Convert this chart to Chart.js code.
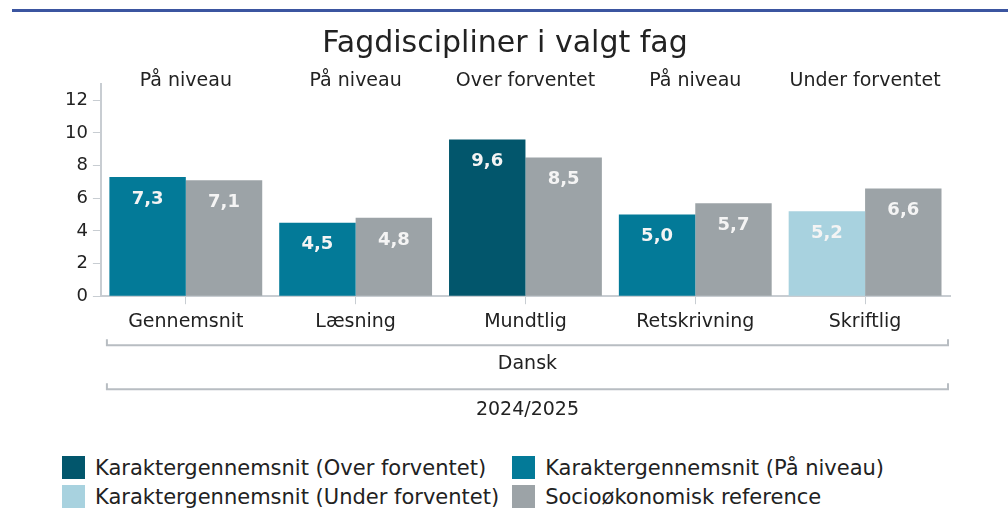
<!DOCTYPE html>
<html>
<head>
<meta charset="utf-8">
<script src="https://cdn.jsdelivr.net/npm/chart.js@4/dist/chart.umd.min.js"></script>
<style>
  html, body { margin: 0; padding: 0; background: #fff; width: 1008px; height: 513px; overflow: hidden; font-family: 'DejaVu Sans', sans-serif; }
  #topline { position: absolute; left: 12px; top: 9px; width: 996px; height: 3px; background: #3b55a0; }
  #wrap { position: absolute; left: 0; top: 0; width: 1008px; height: 440px; }
  #legend { position: absolute; left: 62px; top: 456px; display: grid; grid-template-columns: auto auto; column-gap: 13px; row-gap: 6px; font-size: 21px; color: #222; }
  .item { display: flex; align-items: center; height: 23px; white-space: nowrap; }
  .sw { width: 23px; height: 23px; margin-right: 10px; flex: none; }
</style>
</head>
<body>
<div id="topline"></div>
<div id="wrap"><canvas id="c" width="1008" height="440"></canvas></div>
<div id="legend"></div>
<script>
// ---- data ----
const categories = ['Gennemsnit', 'Læsning', 'Mundtlig', 'Retskrivning', 'Skriftlig'];
const statusLabels = ['På niveau', 'På niveau', 'Over forventet', 'På niveau', 'Under forventet'];
const gradeValues = [7.3, 4.5, 9.6, 5.0, 5.2];
const referenceValues = [7.1, 4.8, 8.5, 5.7, 6.6];
const subjectLabel = 'Dansk';
const yearLabel = '2024/2025';
const yTicks = [0, 2, 4, 6, 8, 10, 12];
const legendLabels = ['Karaktergennemsnit (Over forventet)', 'Karaktergennemsnit (På niveau)', 'Karaktergennemsnit (Under forventet)', 'Socioøkonomisk reference'];
const titleText = 'Fagdiscipliner i valgt fag';

// ---- styles ----
const FONT = "'DejaVu Sans', sans-serif";
const statusColors = { 'Over forventet': '#02566c', 'På niveau': '#037a98', 'Under forventet': '#a8d2df' };
const refColor = '#9ca3a7';
const legendColors = [statusColors['Over forventet'], statusColors['På niveau'], statusColors['Under forventet'], refColor];
const axisColor = '#c8cdd2';
const textColor = '#222';

// legend
const lg = document.getElementById('legend');
legendLabels.forEach((t, i) => {
  const d = document.createElement('div'); d.className = 'item';
  const s = document.createElement('span'); s.className = 'sw'; s.style.background = legendColors[i];
  const tx = document.createElement('span'); tx.textContent = t;
  d.appendChild(s); d.appendChild(tx); lg.appendChild(d);
});

const fmt = v => v.toFixed(1).replace('.', ',');

const extras = {
  id: 'extras',
  afterDatasetsDraw(chart) {
    const ctx = chart.ctx;
    ctx.save();
    ctx.font = 'bold 18px ' + FONT;
    ctx.fillStyle = '#f4f4f4';
    ctx.textAlign = 'center';
    ctx.textBaseline = 'middle';
    chart.data.datasets.forEach((ds, di) => {
      chart.getDatasetMeta(di).data.forEach((el, i) => {
        ctx.fillText(fmt(ds.data[i]), el.x, el.y + 22);
      });
    });
    ctx.restore();
  },
  afterDraw(chart) {
    const ctx = chart.ctx, ca = chart.chartArea, xs = chart.scales.x;
    ctx.save();
    ctx.fillStyle = textColor;
    ctx.textAlign = 'center';
    ctx.textBaseline = 'middle';
    ctx.font = '19px ' + FONT;
    statusLabels.forEach((s, i) => ctx.fillText(s, xs.getPixelForValue(i), ca.top - 3));
    const l = ca.left + 6, r = ca.right - 2, cx = (l + r) / 2;
    ctx.strokeStyle = '#b8bdc2';
    ctx.lineWidth = 2;
    [[ca.bottom + 49, subjectLabel, ca.bottom + 68], [ca.bottom + 93, yearLabel, ca.bottom + 114]].forEach(([y, t, ty]) => {
      ctx.beginPath();
      ctx.moveTo(l, y - 6); ctx.lineTo(l, y); ctx.lineTo(r, y); ctx.lineTo(r, y - 6);
      ctx.stroke();
      ctx.fillText(t, cx, ty);
    });
    ctx.restore();
  }
};

new Chart(document.getElementById('c'), {
  type: 'bar',
  data: {
    labels: categories,
    datasets: [
      { label: 'Karaktergennemsnit', data: gradeValues, backgroundColor: statusLabels.map(s => statusColors[s]) },
      { label: 'Socioøkonomisk reference', data: referenceValues, backgroundColor: refColor }
    ]
  },
  options: {
    responsive: false,
    animation: false,
    layout: { padding: { left: 60, right: 58, top: 0, bottom: 101 } },
    datasets: { bar: { categoryPercentage: 0.9, barPercentage: 1.0 } },
    plugins: {
      legend: { display: false },
      tooltip: { enabled: false },
      title: { display: true, text: titleText, color: textColor, font: { family: FONT, size: 30, weight: 'normal' }, padding: { top: 26, bottom: 22 } }
    },
    scales: {
      x: {
        grid: { display: true, drawOnChartArea: false, offset: false, tickLength: 8, color: axisColor },
        border: { color: axisColor, width: 2 },
        ticks: { color: textColor, font: { family: FONT, size: 19 }, padding: 6 }
      },
      y: {
        min: 0, max: 13,
        afterBuildTicks: axis => { axis.ticks = yTicks.map(v => ({ value: v })); },
        grid: { display: true, drawOnChartArea: false, tickLength: 8, color: axisColor },
        border: { color: axisColor, width: 2 },
        ticks: { color: textColor, font: { family: FONT, size: 18 }, padding: 5 }
      }
    }
  },
  plugins: [extras]
});
</script>
</body>
</html>
